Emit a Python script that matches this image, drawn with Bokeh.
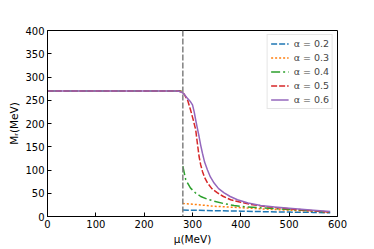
from bokeh.plotting import figure
from bokeh.models import Span, Legend, LegendItem, Range1d
from bokeh.embed import file_html
from bokeh.resources import INLINE

nan = float("nan")
mu_c = 280

mu_02 = [0, 280, nan, 280, 300, 345, 400, 441, 500, 550, 585]
m_02 = [270, 270, nan, 14, 13.5, 12.5, 11.5, 10.5, 9.5, 8.8, 8]

mu_03 = [0, 280, nan, 280, 300, 345, 400, 441, 500, 550, 585]
m_03 = [270, 270, nan, 28, 26.5, 22, 19, 16.5, 13.5, 11.5, 9.5]

mu_04 = [0, 280, nan, 280, 286, 296, 306, 317, 330, 345, 364, 386, 410, 441, 500, 550, 585]
m_04 = [270, 270, nan, 108, 79, 61, 51, 43, 37.5, 33, 28, 23.5, 21, 18.6, 15, 12, 9.5]

mu_05 = [0, 265, 272, 276, 282, 290, 296, 301, 306.7, 310, 313.6, 317, 320.6, 325, 331, 340, 351.7, 364, 379, 400, 420.7, 450, 500, 550, 585]
m_05 = [270, 270, 269.5, 268, 264, 250, 229, 210, 186, 158, 129, 111, 97, 84, 72, 60, 51, 43, 36, 30.5, 26, 21.5, 16.5, 12.5, 9.5]

mu_06 = [0, 265, 272, 276, 282, 289.5, 295, 300, 303.5, 306.7, 310, 313.6, 317, 320.6, 325, 331, 337, 344.7, 354, 365.5, 378, 393, 415, 441, 470, 500, 550, 585]
m_06 = [270, 270, 269.5, 268, 264, 254, 248, 240, 225, 207, 190, 172, 153, 136, 117, 100, 85, 72, 60, 51, 43, 36, 29, 23.5, 20.5, 18, 13.5, 10.5]

labels = ["α = 0.2", "α = 0.3", "α = 0.4", "α = 0.5", "α = 0.6"]
colors = ["#1f77b4", "#ff7f0e", "#2ca02c", "#d62728", "#9467bd"]
dashes = ["6 2", "2 2", "9 3 2 3", "6 2", "solid"]

x_ticks = [0, 100, 200, 300, 400, 500, 600]
y_ticks = [0, 50, 100, 150, 200, 250, 300, 350, 400]

p = figure(width=366, height=247, output_backend="svg", toolbar_location=None,
           x_range=Range1d(0, 600), y_range=Range1d(0, 400),
           min_border_left=47, min_border_right=29, min_border_top=30, min_border_bottom=30)
p.background_fill_color = "white"
p.border_fill_color = "white"
p.outline_line_color = "black"
p.outline_line_width = 1
p.xgrid.visible = False
p.ygrid.visible = False

for ax in (p.xaxis[0], p.yaxis[0]):
    ax.major_tick_in = 4
    ax.major_tick_out = 0
    ax.minor_tick_in = 0
    ax.minor_tick_out = 0
    ax.major_label_text_font = "DejaVu Sans"
    ax.major_label_text_font_size = "10px"
    ax.major_label_text_color = "black"
    ax.axis_label_text_font = "DejaVu Sans"
    ax.axis_label_text_font_size = "10.5px"
    ax.axis_label_text_font_style = "normal"
    ax.axis_label_text_color = "black"
    ax.axis_line_color = "black"
    ax.major_tick_line_color = "black"
    ax.major_label_standoff = 3
    ax.axis_label_standoff = 2

p.xaxis.ticker = x_ticks
p.yaxis.ticker = y_ticks
p.xaxis.axis_label = "μ(MeV)"
p.yaxis.axis_label = "Mᵣ(MeV)"

series = [(mu_02, m_02), (mu_03, m_03), (mu_04, m_04), (mu_05, m_05), (mu_06, m_06)]
items = []
for (xs, ys), lab, c, d in zip(series, labels, colors, dashes):
    r = p.line(xs, ys, line_color=c, line_width=1.5, line_dash=d)
    items.append(LegendItem(label=lab, renderers=[r]))

vline = Span(location=mu_c, dimension="height", line_color="gray", line_width=1.5, line_dash="6 2")
p.add_layout(vline)

legend = Legend(items=items, location="top_right")
legend.label_text_font = "DejaVu Sans"
legend.label_text_font_size = "9.5px"
legend.label_height = 9
legend.glyph_height = 9
legend.glyph_width = 18
legend.spacing = 3
legend.padding = 3
legend.margin = 4
legend.label_standoff = 5
legend.border_line_color = "#cccccc"
legend.border_line_width = 1
legend.background_fill_alpha = 0.8
p.add_layout(legend)

open("out.html", "w").write(file_html(p, INLINE))
